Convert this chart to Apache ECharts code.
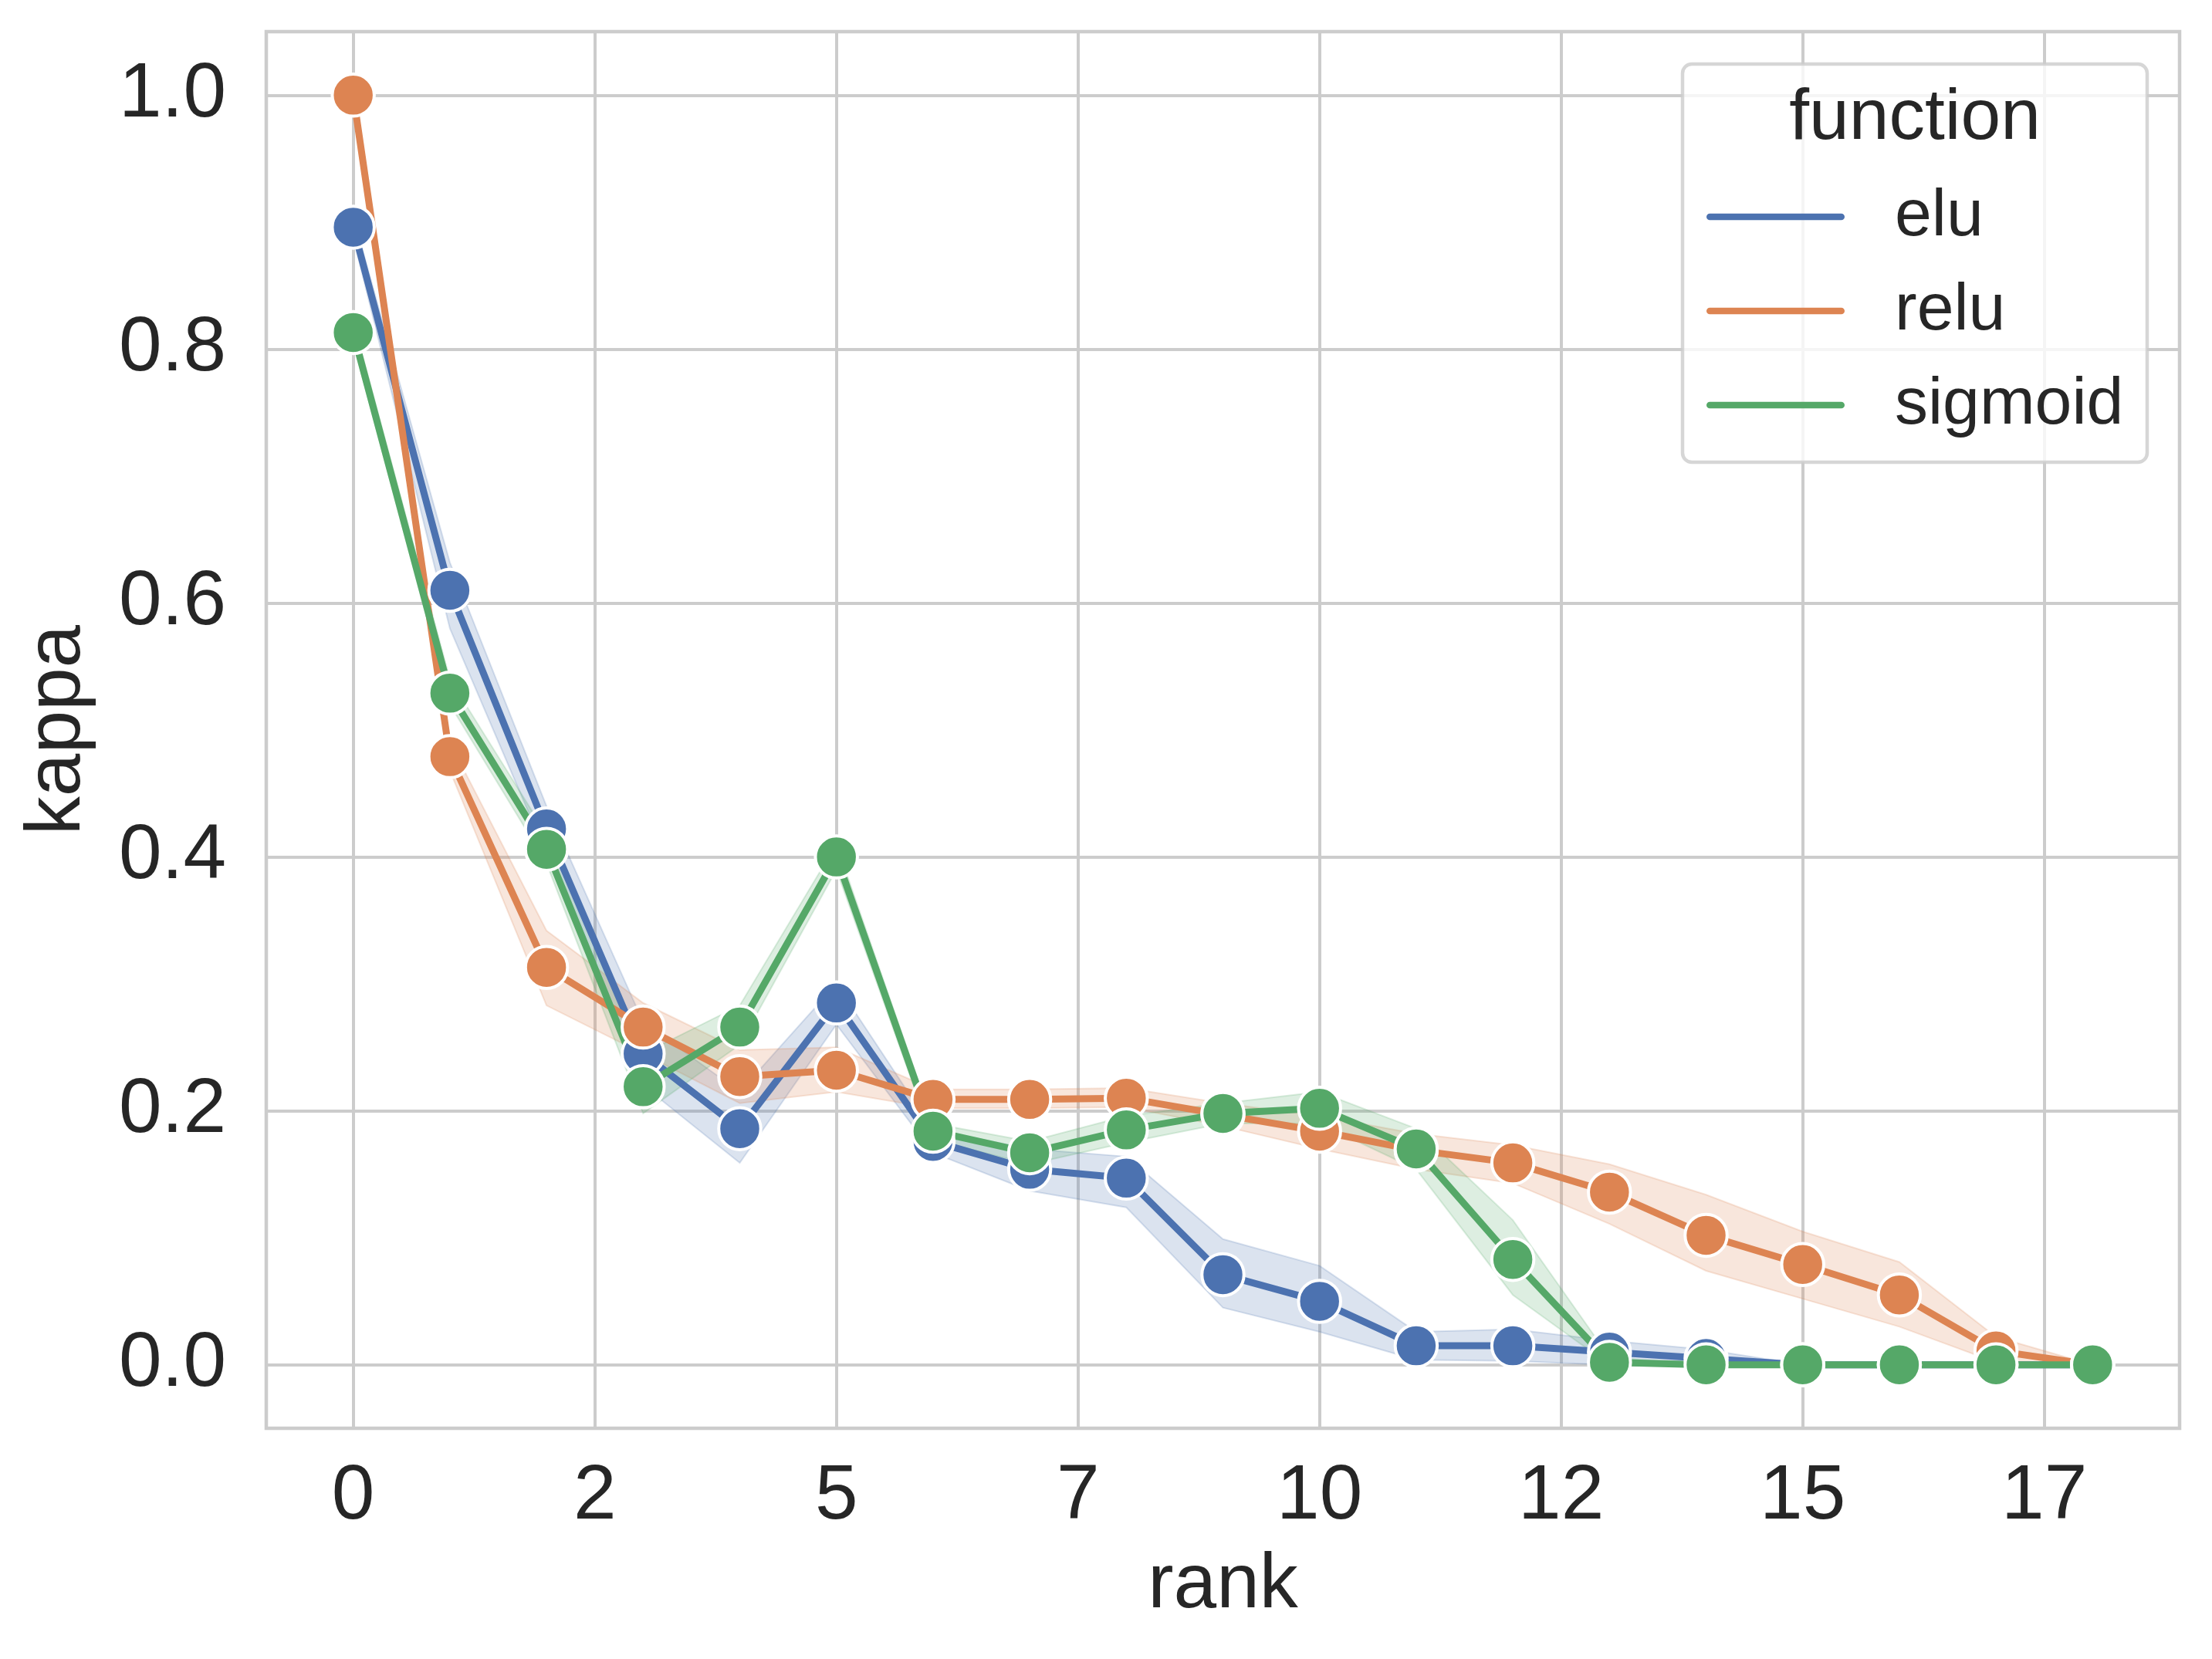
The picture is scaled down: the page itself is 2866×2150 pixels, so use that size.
<!DOCTYPE html>
<html>
<head>
<meta charset="utf-8">
<script src="https://cdn.jsdelivr.net/npm/echarts@6/dist/echarts.min.js"></script>
<style>
html, body { margin: 0; padding: 0; background: #ffffff; }
#chart { width: 2866px; height: 2150px; }
</style>
</head>
<body>
<div id="chart"></div>
<script>
// ---------------- data ----------------
const ranks = [0, 1, 2, 3, 4, 5, 6, 7, 8, 9, 10, 11, 12, 13, 14, 15, 16, 17, 18];

const eluMean = [0.896, 0.610, 0.422, 0.245, 0.186, 0.285, 0.176, 0.154, 0.147, 0.071, 0.050, 0.015, 0.015, 0.010, 0.005, 0.0, 0.0, 0.0, 0.0];
const eluLow  = [0.888, 0.580, 0.402, 0.220, 0.159, 0.268, 0.167, 0.137, 0.124, 0.045, 0.026, 0.004, 0.003, 0.000, 0.000, 0.0, 0.0, 0.0, 0.0];
const eluHigh = [0.904, 0.632, 0.440, 0.270, 0.215, 0.300, 0.185, 0.170, 0.164, 0.099, 0.078, 0.026, 0.028, 0.019, 0.012, 0.0, 0.0, 0.0, 0.0];

const reluMean = [1.000, 0.479, 0.313, 0.266, 0.227, 0.232, 0.209, 0.209, 0.210, 0.197, 0.184, 0.169, 0.159, 0.136, 0.102, 0.079, 0.055, 0.011, 0.0];
const reluLow  = [1.000, 0.468, 0.283, 0.245, 0.206, 0.215, 0.202, 0.202, 0.203, 0.188, 0.170, 0.154, 0.143, 0.111, 0.074, 0.052, 0.030, 0.002, 0.0];
const reluHigh = [1.000, 0.490, 0.342, 0.285, 0.248, 0.250, 0.217, 0.217, 0.218, 0.206, 0.196, 0.182, 0.173, 0.158, 0.134, 0.105, 0.081, 0.022, 0.0];

const sigmoidMean = [0.813, 0.529, 0.406, 0.219, 0.266, 0.400, 0.184, 0.167, 0.185, 0.198, 0.202, 0.170, 0.083, 0.002, 0.0, 0.0, 0.0, 0.0, 0.0];
const sigmoidLow  = [0.805, 0.520, 0.395, 0.198, 0.252, 0.390, 0.177, 0.158, 0.175, 0.190, 0.190, 0.154, 0.055, 0.000, 0.0, 0.0, 0.0, 0.0, 0.0];
const sigmoidHigh = [0.822, 0.540, 0.418, 0.245, 0.283, 0.410, 0.190, 0.176, 0.196, 0.206, 0.215, 0.186, 0.114, 0.006, 0.0, 0.0, 0.0, 0.0, 0.0];

const functionNames = ['elu', 'relu', 'sigmoid'];
const xTickValues = [0, 2.5, 5, 7.5, 10, 12.5, 15, 17.5];
const yTickValues = [0, 0.2, 0.4, 0.6, 0.8, 1.0];

// ---------------- style ----------------
const FONT = '"Liberation Sans", Arial, Helvetica, sans-serif';
const TEXT = '#262626';
const GRID = '#cccccc';
const LINE_W = 9;
const palette = { elu: '#4c72b0', relu: '#dd8452', sigmoid: '#55a868' };
const LEGEND_ICON = 'path://M4.35,0 L174.65,0 A4.35,4.35 0 0 1 174.65,8.7 L4.35,8.7 A4.35,4.35 0 0 1 4.35,0 Z';

function rgba(hex, a) {
  const n = parseInt(hex.slice(1), 16);
  return 'rgba(' + ((n >> 16) & 255) + ',' + ((n >> 8) & 255) + ',' + (n & 255) + ',' + a + ')';
}

function bandSeries(name, color, low, high) {
  return {
    type: 'custom',
    name: name + ' CI',
    silent: true,
    z: 1,
    data: ranks.map((r, i) => [r, low[i], high[i]]),
    encode: { x: 0, y: [1, 2] },
    renderItem: function (params, api) {
      if (params.dataIndex !== 0) return null;
      const pts = [];
      for (let i = 0; i < ranks.length; i++) pts.push(api.coord([ranks[i], high[i]]));
      for (let i = ranks.length - 1; i >= 0; i--) pts.push(api.coord([ranks[i], low[i]]));
      return {
        type: 'polygon',
        shape: { points: pts },
        style: { fill: rgba(color, 0.2), stroke: rgba(color, 0.2), lineWidth: 2 }
      };
    }
  };
}

function lineSeries(name, color, mean) {
  return {
    type: 'line',
    name: name,
    z: 3,
    data: ranks.map((r, i) => [r, mean[i]]),
    symbol: 'circle',
    symbolSize: 54.5,
    showAllSymbol: true,
    lineStyle: { width: LINE_W, color: color, cap: 'round', join: 'round' },
    itemStyle: { color: color, borderColor: '#ffffff', borderWidth: 4 },
    emphasis: { disabled: true },
    animation: false
  };
}

const chart = echarts.init(document.getElementById('chart'), null, { renderer: 'canvas' });

const option = {
  backgroundColor: '#ffffff',
  animation: false,
  textStyle: { fontFamily: FONT },
  grid: {
    left: 345, top: 41, right: 42, bottom: 299,
    containLabel: false,
    outerBoundsMode: 'none',
    show: true,
    borderColor: GRID,
    borderWidth: 4.5,
    backgroundColor: 'transparent'
  },
  xAxis: {
    type: 'value',
    min: -0.9,
    max: 18.9,
    name: 'rank',
    nameLocation: 'middle',
    nameGap: 154,
    nameTextStyle: { fontSize: 100, color: TEXT, fontFamily: FONT },
    axisLine: { show: false },
    axisTick: { show: false, customValues: xTickValues },
    axisLabel: {
      customValues: xTickValues,
      formatter: v => String(Math.floor(v)),
      fontSize: 100, color: TEXT, fontFamily: FONT, margin: 39
    },
    splitLine: { show: true, lineStyle: { color: GRID, width: 4 } }
  },
  yAxis: {
    type: 'value',
    min: -0.05,
    max: 1.05,
    name: 'kappa',
    nameLocation: 'middle',
    nameGap: 220,
    nameTextStyle: { fontSize: 100, color: TEXT, fontFamily: FONT },
    axisLine: { show: false },
    axisTick: { show: false, customValues: yTickValues },
    axisLabel: {
      customValues: yTickValues,
      formatter: v => v.toFixed(1),
      fontSize: 100, color: TEXT, fontFamily: FONT, margin: 52
    },
    splitLine: { show: true, lineStyle: { color: GRID, width: 4 } }
  },
  legend: {
    data: functionNames,
    orient: 'vertical',
    left: 2211,
    top: 238,
    padding: 0,
    itemWidth: 179,
    itemHeight: 8.7,
    itemGap: 36,
    icon: LEGEND_ICON,
    selectedMode: false,
    z: 60,
    itemStyle: { borderWidth: 0, borderColor: 'transparent' },
    lineStyle: { width: LINE_W, cap: 'round' },
    textStyle: { fontSize: 86, lineHeight: 85, color: TEXT, fontFamily: FONT, padding: [0, 0, 0, 60] }
  },
  graphic: [
    {
      type: 'rect',
      z: 50,
      silent: true,
      shape: { x: 2180, y: 83, width: 602, height: 516, r: 12 },
      style: { fill: 'rgba(255,255,255,0.8)', stroke: 'rgba(204,204,204,0.8)', lineWidth: 4.5 }
    },
    {
      type: 'text',
      z: 51,
      silent: true,
      style: {
        text: 'function', x: 2481, y: 154,
        textAlign: 'center', textVerticalAlign: 'middle',
        fontSize: 93, fill: TEXT, fontFamily: FONT
      }
    }
  ],
  series: [
    bandSeries('elu', palette.elu, eluLow, eluHigh),
    bandSeries('relu', palette.relu, reluLow, reluHigh),
    bandSeries('sigmoid', palette.sigmoid, sigmoidLow, sigmoidHigh),
    lineSeries('elu', palette.elu, eluMean),
    lineSeries('relu', palette.relu, reluMean),
    lineSeries('sigmoid', palette.sigmoid, sigmoidMean)
  ]
};

chart.setOption(option);
</script>
</body>
</html>
